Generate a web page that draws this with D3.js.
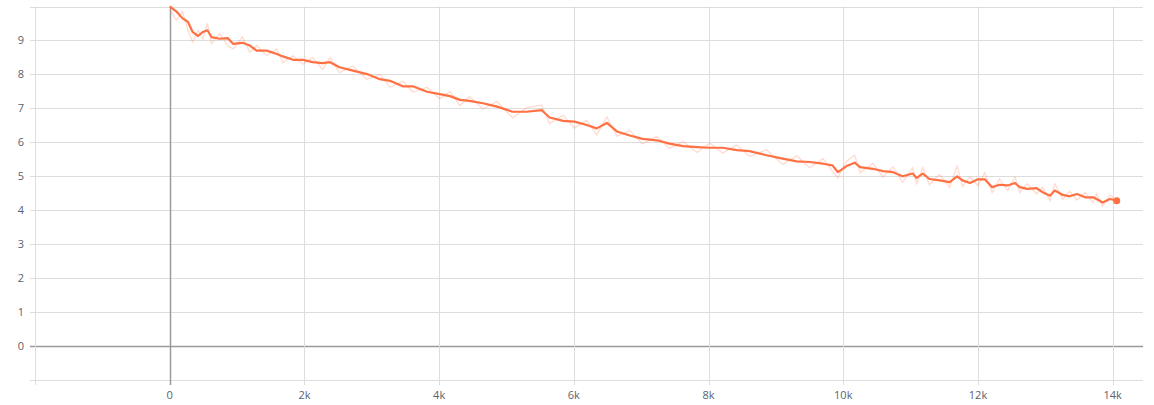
<!DOCTYPE html>
<html>
<head>
<meta charset="utf-8">
<script src="https://cdn.jsdelivr.net/npm/d3@7"></script>
<style>
    body { margin: 0; background: #fff; }
    #chart text { font-family: "Open Sans", "DejaVu Sans", sans-serif; }
</style>
</head>
<body>
<div id="chart"></div>
<script>
// step values
const g_steps = [0,100,190,270,340,420,490,560,620,740,860,940,1080,1190,1290,1440,1590,1680,1830,1980,2120,2270,2380,2520,2720,2930,3120,3270,3460,3610,3820,4010,4160,4310,4450,4650,4860,5090,5300,5520,5640,5840,6010,6190,6340,6490,6640,6830,7020,7230,7420,7620,7830,8020,8210,8420,8610,8860,9100,9310,9500,9700,9840,9920,10050,10170,10250,10440,10590,10740,10880,11030,11090,11180,11280,11430,11580,11690,11770,11880,12000,12100,12210,12320,12440,12550,12620,12730,12870,12960,13070,13140,13260,13360,13470,13590,13710,13760,13850,13960,14060];

// smoothed loss
const g_smooth = [10.0,9.85,9.65,9.55,9.25,9.13,9.25,9.30,9.10,9.05,9.07,8.90,8.93,8.85,8.70,8.70,8.60,8.53,8.43,8.43,8.36,8.33,8.36,8.21,8.11,8.01,7.86,7.81,7.65,7.65,7.49,7.42,7.36,7.25,7.22,7.15,7.05,6.90,6.90,6.95,6.73,6.63,6.61,6.51,6.41,6.57,6.32,6.20,6.10,6.06,5.96,5.89,5.86,5.84,5.84,5.77,5.74,5.62,5.52,5.44,5.42,5.37,5.32,5.12,5.30,5.40,5.27,5.22,5.15,5.12,5.00,5.08,4.95,5.08,4.92,4.88,4.83,5.00,4.88,4.80,4.91,4.91,4.68,4.75,4.73,4.80,4.68,4.63,4.65,4.53,4.43,4.58,4.45,4.41,4.48,4.38,4.38,4.33,4.23,4.33,4.28];

// raw (unsmoothed) loss, faint line behind
const g_raw = [9.90,9.60,9.85,9.30,8.95,9.30,9.05,9.50,8.90,9.20,8.85,8.75,9.10,8.65,8.85,8.55,8.75,8.35,8.55,8.30,8.50,8.15,8.50,8.05,8.25,7.85,8.00,7.62,7.80,7.48,7.62,7.28,7.50,7.08,7.35,6.98,7.20,6.72,7.02,7.10,6.55,6.80,6.42,6.65,6.22,6.75,6.18,6.35,5.95,6.18,5.82,6.02,5.70,5.98,5.68,5.92,5.58,5.78,5.35,5.60,5.25,5.52,5.15,4.95,5.45,5.62,5.10,5.38,4.98,5.28,4.82,5.25,4.78,5.25,4.75,5.05,4.68,5.30,4.70,4.98,4.72,5.10,4.52,4.92,4.58,4.98,4.52,4.78,4.48,4.68,4.28,4.78,4.32,4.56,4.30,4.52,4.22,4.48,4.12,4.45,4.28];

// axis ticks
const g_xTicks = [-2000,0,2000,4000,6000,8000,10000,12000,14000];
const g_yTicks = [-1,0,1,2,3,4,5,6,7,8,9,10];

const width = 1154, height = 405;
const lineColor = "#ff7043";

function makeLossChart() {
    const data = g_steps.map((s, i) => ({ step: s, smooth: g_smooth[i], raw: g_raw[i] }));

    //Destory previous
    d3.select("#chart").select("svg").remove();
    const svg = d3
        .select("#chart")
        .append("svg")
        .attr("width", width)
        .attr("height", height);

    // Define the scales
    const x = d3.scaleLinear().domain([-2000, 14450]).range([35, 1143]);
    const y = d3.scaleLinear().domain([-1, 10]).range([380, 6.5]);

    // grid lines
    svg.append("g")
        .selectAll("line")
        .data(g_yTicks)
        .enter()
        .append("line")
        .attr("x1", x.range()[0] - 5)
        .attr("x2", x.range()[1])
        .attr("y1", (d) => Math.round(y(d)) + 0.5)
        .attr("y2", (d) => Math.round(y(d)) + 0.5)
        .attr("stroke", (d) => (d === 0 ? "#9a9a9a" : "#dddddd"))
        .attr("stroke-width", (d) => (d === 0 ? 1.5 : 1));

    svg.append("g")
        .selectAll("line")
        .data(g_xTicks)
        .enter()
        .append("line")
        .attr("x1", (d) => Math.round(x(d)) + 0.5)
        .attr("x2", (d) => Math.round(x(d)) + 0.5)
        .attr("y1", y.range()[1])
        .attr("y2", y.range()[0] + 5)
        .attr("stroke", (d) => (d === 0 ? "#9a9a9a" : "#dddddd"))
        .attr("stroke-width", (d) => (d === 0 ? 1.5 : 1));

    // y labels (0..9 only)
    svg.append("g")
        .selectAll("text")
        .data(g_yTicks.filter((d) => d >= 0 && d <= 9))
        .enter()
        .append("text")
        .attr("x", 24)
        .attr("y", (d) => y(d) + 4)
        .attr("text-anchor", "end")
        .attr("font-size", 11)
        .attr("fill", "#5a6270")
        .text((d) => d);

    // x labels
    svg.append("g")
        .selectAll("text")
        .data(g_xTicks.filter((d) => d >= 0))
        .enter()
        .append("text")
        .attr("x", (d) => x(d))
        .attr("y", 399)
        .attr("text-anchor", "middle")
        .attr("font-size", 11)
        .attr("fill", "#5a6270")
        .text((d) => d3.format("~s")(d));

    // raw line
    svg.append("path")
        .datum(data)
        .attr("fill", "none")
        .attr("stroke", lineColor)
        .attr("stroke-opacity", 0.25)
        .attr("stroke-width", 1.3)
        .attr("d", d3.line().x((d) => x(d.step)).y((d) => y(d.raw)));

    // smoothed line
    svg.append("path")
        .datum(data)
        .attr("fill", "none")
        .attr("stroke", lineColor)
        .attr("stroke-width", 2.2)
        .attr("stroke-linejoin", "round")
        .attr("d", d3.line().x((d) => x(d.step)).y((d) => y(d.smooth)));

    // end dot
    const last = data[data.length - 1];
    svg.append("circle")
        .attr("cx", x(last.step))
        .attr("cy", y(last.smooth))
        .attr("r", 3.5)
        .attr("fill", lineColor);
}

makeLossChart();
</script>
</body>
</html>
